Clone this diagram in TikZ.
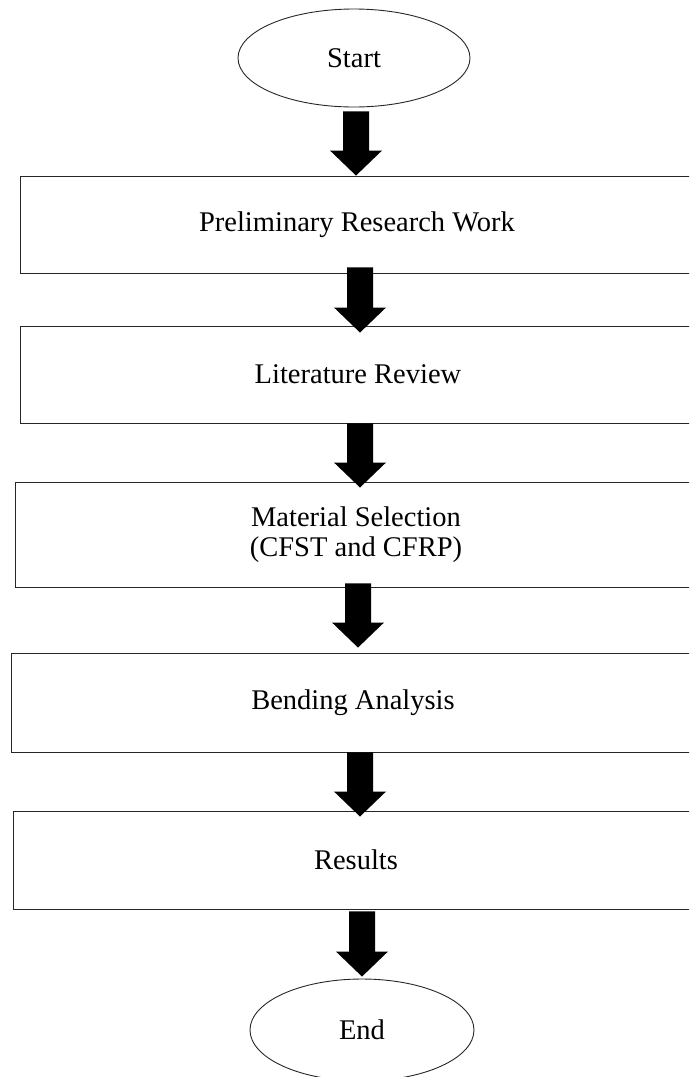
\documentclass[tikz,border=0pt]{standalone}
\usepackage{fontspec}
\setmainfont{Liberation Serif}
\usetikzlibrary{calc, shapes.geometric}

\begin{document}
\begin{tikzpicture}[
        x=1pt, y=-1pt,
        terminal/.style={
            ellipse,
            draw=black!85,
            line width=0.9pt,
            inner sep=0pt
        },
        stage/.style={
            rectangle,
            draw=black!85,
            line width=0.9pt,
            inner sep=0pt,
            align=center
        },
        blockarrow/.style={
            fill=black,
            to path={
                let \p1=(\tikztostart), \p2=(\tikztotarget) in
                (\x1-13pt,\y1) -- (\x1-13pt,\y2+25pt) -- (\x1-26pt,\y2+25pt)
                -- (\x1,\y2) -- (\x1+26pt,\y2+25pt) -- (\x1+13pt,\y2+25pt)
                -- (\x1+13pt,\y1) -- cycle
            }
        },
        font=\fontsize{28.5pt}{30pt}\selectfont
    ]

    \useasboundingbox (0,0) rectangle (689,1077);
    \clip (0,0) rectangle (689,1077);

    \node[terminal, minimum width=232pt, minimum height=98pt] (start) at (354,58) {Start};

    \node[stage, minimum width=674pt, minimum height=97pt] (prelim) at (357,224.5) {Preliminary Research Work};
    \node[stage, minimum width=676pt, minimum height=97pt] (lit) at (358,374.5) {Literature Review};
    \node[stage, minimum width=682pt, minimum height=105pt] (mat) at (356,534.5) {Material Selection\\(CFST and CFRP)};
    \node[stage, minimum width=684pt, minimum height=99pt] (bend) at (353,702.5) {Bending Analysis};
    \node[stage, minimum width=686pt, minimum height=98pt] (res) at (356,860) {Results};

    \node[terminal, minimum width=224pt, minimum height=102pt] (finish) at (362,1030) {End};

    \path[blockarrow] ([xshift=2pt,yshift=-4pt]start.south) to (prelim.north);
    \path[blockarrow] ([xshift=3pt,yshift=6pt]prelim.south) to ([yshift=-7pt]lit.north);
    \path[blockarrow] ([xshift=2pt]lit.south) to ([yshift=-6pt]mat.north);
    \path[blockarrow] ([xshift=2pt,yshift=4pt]mat.south) to ([yshift=5pt]bend.north);
    \path[blockarrow] ([xshift=7pt]bend.south) to ([yshift=-6pt]res.north);
    \path[blockarrow] ([xshift=6pt,yshift=-2pt]res.south) to ([yshift=2pt]finish.north);

\end{tikzpicture}
\end{document}
